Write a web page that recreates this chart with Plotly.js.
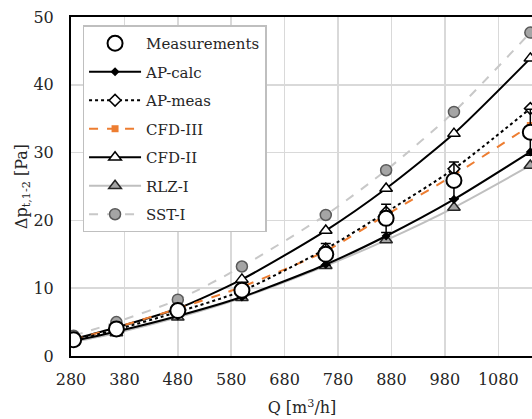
<!DOCTYPE html>
<html>
<head>
<meta charset="utf-8">
<script src="https://cdn.plot.ly/plotly-3.0.1.min.js"></script>
<style>html,body{margin:0;padding:0;overflow:hidden;background:#fff;}</style>
</head>
<body>
<div id="chart"></div>
<script>
const flow = [285, 365, 480, 600, 757, 870, 997, 1140];
const measurements = [2.4, 4.0, 6.7, 9.7, 15.0, 20.3, 25.9, 33.0];
const measErr = [0.3, 0.5, 0.8, 1.1, 1.6, 2.1, 2.7, 3.4];
const apCalc = [2.2, 3.6, 5.9, 8.7, 13.5, 17.7, 23.1, 30.1];
const apMeas = [2.3, 3.9, 6.5, 9.6, 15.8, 21.2, 27.6, 36.5];
const cfd3 = [2.4, 4.2, 7.0, 10.2, 15.5, 20.8, 26.7, 34.0];
const cfd2 = [2.5, 4.2, 7.0, 11.3, 18.5, 24.7, 32.8, 43.9];
const rlz1 = [2.1, 3.4, 5.7, 8.6, 13.3, 17.1, 21.9, 28.1];
const sst1 = [3.0, 5.0, 8.3, 13.2, 20.8, 27.4, 36.0, 47.7];
const names = ["Measurements", "AP-calc", "AP-meas", "CFD-III", "CFD-II", "RLZ-I", "SST-I"];

const sp = {shape: 'spline', smoothing: 0.7};
const traces = [
  {x: flow, y: measurements, name: names[0], mode: 'markers', legendgroup: 'a', legendrank: 1,
   marker: {symbol: 'circle', size: 15, color: '#ffffff', line: {color: '#000000', width: 2}},
   error_y: {type: 'data', array: measErr, visible: true, color: '#000000', thickness: 1.5, width: 5}},
  {x: flow, y: apCalc, name: names[1], mode: 'lines+markers', legendgroup: 'b', legendrank: 2,
   line: Object.assign({color: '#000000', width: 2}, sp),
   marker: {symbol: 'diamond', size: 7, color: '#000000'}},
  {x: flow, y: apMeas, name: names[2], mode: 'lines+markers', legendgroup: 'c', legendrank: 3,
   line: Object.assign({color: '#000000', width: 2, dash: 'dot'}, sp),
   marker: {symbol: 'diamond', size: 9, color: '#ffffff', line: {color: '#000000', width: 1.5}}},
  {x: flow, y: cfd3, name: names[3], mode: 'lines+markers', legendgroup: 'd', legendrank: 4,
   line: Object.assign({color: '#ed7d31', width: 2, dash: 'dash'}, sp),
   marker: {symbol: 'square', size: 7, color: '#ed7d31'}},
  {x: flow, y: cfd2, name: names[4], mode: 'lines+markers', legendgroup: 'e', legendrank: 5,
   line: Object.assign({color: '#000000', width: 2}, sp),
   marker: {symbol: 'triangle-up', size: 11, color: '#ffffff', line: {color: '#000000', width: 1.5}}},
  {x: flow, y: rlz1, name: names[5], mode: 'lines+markers', legendgroup: 'f', legendrank: 6,
   line: Object.assign({color: '#bfbfbf', width: 2}, sp),
   marker: {symbol: 'triangle-up', size: 11, color: '#a5a5a5', line: {color: '#262626', width: 1.5}}},
  {x: flow, y: sst1, name: names[6], mode: 'lines+markers', legendgroup: 'g', legendrank: 7,
   line: Object.assign({color: '#c8c8c8', width: 2, dash: 'dash'}, sp),
   marker: {symbol: 'circle', size: 11, color: '#a5a5a5', line: {color: '#595959', width: 1.5}}}
];
// draw measurements on top
const order = [traces[6], traces[5], traces[4], traces[3], traces[2], traces[1], traces[0]];

const font = {family: 'DejaVu Serif', size: 16, color: '#262626'};
const layout = {
  width: 540, height: 419,
  margin: {l: 71, r: 7, t: 17, b: 63},
  paper_bgcolor: '#ffffff', plot_bgcolor: '#ffffff',
  font: font,
  showlegend: true,
  legend: {x: 0.025, y: 0.975, xanchor: 'left', yanchor: 'top', traceorder: 'grouped',
           tracegroupgap: 6, itemwidth: 52, bgcolor: '#ffffff', bordercolor: '#bfbfbf', borderwidth: 1.5,
           font: {family: 'DejaVu Serif', size: 15, color: '#262626'}},
  xaxis: {range: [280, 1145], tick0: 280, dtick: 100, tickmode: 'linear',
          showgrid: true, gridcolor: '#d9d9d9', gridwidth: 1.5,
          showline: true, linecolor: '#000000', linewidth: 2, mirror: true,
          zeroline: false, ticks: '', ticklabelstandoff: 8,
          title: {text: 'Q [m<sup>3</sup>/h]', font: font, standoff: 14}},
  yaxis: {range: [0, 50], dtick: 10, tickmode: 'linear',
          showgrid: true, gridcolor: '#d9d9d9', gridwidth: 1.5,
          showline: true, linecolor: '#000000', linewidth: 2, mirror: true,
          zeroline: false, ticks: '', ticklabelstandoff: 12,
          title: {text: 'Δp<sub>t,1-2</sub> [Pa]', font: font, standoff: 2}}
};
Plotly.newPlot('chart', order, layout, {displayModeBar: false, staticPlot: true});
</script>
</body>
</html>
